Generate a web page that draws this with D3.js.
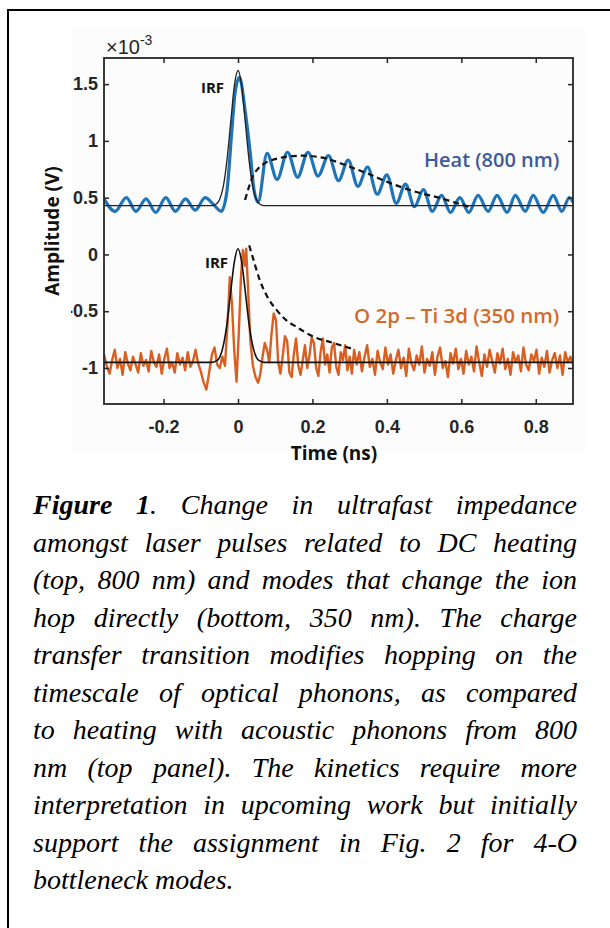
<!DOCTYPE html>
<html><head><meta charset="utf-8">
<script src="https://cdn.jsdelivr.net/npm/d3@7"></script>
<style>body{margin:0;background:#fff} svg{display:block}</style>
</head><body><svg id="c" width="610" height="928"></svg>
<script>
// ---------- data (amplitudes in units of 1e-3 V, time in ns) ----------
const xTicks = [-0.2, 0, 0.2, 0.4, 0.6, 0.8];
const xTickLabels = ["-0.2", "0", "0.2", "0.4", "0.6", "0.8"];
const yTicks = [1.5, 1, 0.5, 0, -0.5, -1];
const yTickLabels = ["1.5", "1", "0.5", "0", "-0.5", "-1"];

const heatTime = [-0.36,-0.33,-0.30,-0.274,-0.247,-0.221,-0.194,-0.168,-0.141,-0.115,-0.088,-0.066,-0.045,-0.030,-0.017,-0.008,0.004,0.019,0.032,0.043,0.054,
  0.078,0.105,0.133,0.160,0.188,0.215,0.243,0.270,0.296,0.322,0.348,0.374,0.400,0.425,0.450,0.474,0.498,0.522,0.547,0.571,0.596,0.620,0.645,0.672,0.696,0.723,0.745,0.772,0.793,0.820,0.847,0.870,0.890,0.900];
const heatValue = [0.49,0.38,0.50,0.38,0.49,0.37,0.50,0.38,0.49,0.39,0.50,0.44,0.38,0.55,1.07,1.42,1.56,1.27,0.92,0.57,0.46,
  0.89,0.66,0.90,0.68,0.90,0.69,0.87,0.65,0.83,0.60,0.77,0.53,0.70,0.45,0.62,0.42,0.57,0.38,0.52,0.37,0.50,0.37,0.52,0.38,0.52,0.37,0.52,0.38,0.52,0.37,0.52,0.38,0.50,0.46];

const irfTopTime = [-0.36,-0.07,-0.06,-0.05,-0.04,-0.03,-0.02,-0.01,0,0.01,0.02,0.03,0.04,0.05,0.06,0.07,0.9];
const irfTopValue = [0.43,0.43,0.44,0.48,0.59,0.82,1.15,1.48,1.62,1.48,1.15,0.82,0.59,0.48,0.44,0.43,0.43];

const heatFitTime = [0.019,0.030,0.040,0.055,0.070,0.090,0.113,0.140,0.175,0.200,0.230,0.270,0.310,0.350,0.400,0.450,0.490,0.540,0.580,0.620];
const heatFitValue = [0.48,0.60,0.69,0.76,0.80,0.83,0.85,0.865,0.87,0.865,0.85,0.81,0.76,0.71,0.64,0.58,0.54,0.50,0.46,0.42];

const ctTime = [-0.360,-0.352,-0.345,-0.338,-0.331,-0.324,-0.317,-0.310,-0.303,-0.296,-0.289,-0.282,-0.275,-0.268,-0.261,-0.254,-0.247,-0.240,-0.233,-0.226,-0.219,-0.212,-0.205,-0.198,-0.191,-0.184,-0.177,-0.170,-0.163,-0.156,-0.149,-0.142,-0.135,-0.128,-0.121,-0.114,-0.107,-0.100,-0.093,-0.085,-0.078,-0.070,-0.063,-0.056,-0.049,-0.042,-0.035,-0.028,-0.022,-0.016,-0.010,-0.004,0.002,0.008,0.013,0.018,0.022,0.027,0.033,0.040,0.047,0.054,0.060,0.066,0.072,0.078,0.084,0.090,0.096,0.102,0.108,0.114,0.120,0.126,0.132,0.138,0.144,0.150,0.156,0.162,0.168,0.174,0.180,0.186,0.192,0.198,0.204,0.210,0.216,0.222,0.228,0.234,0.240,0.246,0.252,0.258,0.264,0.270,0.276,0.282,0.288,0.294,0.300,0.306,0.312,0.319,0.326,0.333,0.340,0.347,0.354,0.361,0.368,0.375,0.382,0.389,0.396,0.403,0.410,0.417,0.424,0.431,0.438,0.445,0.452,0.459,0.466,0.473,0.480,0.487,0.494,0.501,0.508,0.515,0.522,0.529,0.536,0.543,0.550,0.557,0.564,0.571,0.578,0.585,0.592,0.599,0.606,0.613,0.620,0.627,0.634,0.641,0.648,0.655,0.662,0.669,0.676,0.683,0.690,0.697,0.704,0.711,0.718,0.725,0.732,0.739,0.746,0.753,0.760,0.767,0.774,0.781,0.788,0.795,0.802,0.809,0.816,0.823,0.830,0.837,0.844,0.851,0.858,0.865,0.872,0.879,0.886,0.893,0.900];
const ctValue = [-0.88,-0.99,-1.05,-0.93,-0.84,-1.00,-0.92,-1.06,-0.86,-0.96,-1.02,-0.90,-0.97,-1.04,-0.87,-0.98,-0.93,-1.03,-0.85,-0.95,-0.99,-0.88,-1.05,-0.92,-0.83,-1.00,-0.95,-1.04,-0.87,-0.97,-0.91,-1.02,-0.86,-0.99,-0.94,-0.84,-0.96,-1.03,-1.12,-1.19,-1.05,-0.88,-0.82,-0.97,-1.00,-0.90,-0.98,-0.60,-0.20,-0.45,-0.85,-1.12,-0.70,-0.20,0.04,-0.10,0.05,-0.30,-0.75,-0.98,-1.08,-1.13,-1.05,-0.90,-0.78,-0.84,-0.95,-0.70,-0.52,-0.58,-0.95,-1.05,-0.90,-0.72,-0.76,-1.04,-1.08,-0.88,-0.74,-0.98,-1.06,-0.93,-0.80,-1.00,-0.89,-0.73,-0.78,-1.00,-1.07,-0.86,-0.74,-0.97,-0.88,-1.04,-0.82,-0.78,-0.99,-1.06,-0.86,-0.93,-0.80,-1.02,-0.90,-1.05,-0.84,-0.97,-0.86,-1.03,-0.90,-0.80,-0.99,-0.92,-1.06,-0.85,-0.95,-1.01,-0.82,-0.97,-0.88,-1.05,-0.93,-0.84,-1.00,-0.91,-1.07,-0.83,-0.96,-1.02,-0.89,-0.97,-0.81,-1.04,-0.92,-0.98,-0.86,-1.06,-0.90,-0.82,-1.00,-0.94,-1.08,-0.87,-0.96,-0.83,-1.01,-0.92,-1.05,-0.85,-0.97,-0.90,-1.03,-0.81,-0.95,-1.07,-0.88,-0.99,-0.84,-0.94,-1.04,-0.87,-0.96,-0.83,-1.01,-0.92,-1.06,-0.86,-0.95,-0.89,-1.03,-0.82,-0.97,-1.02,-0.88,-0.94,-0.84,-1.05,-0.91,-0.99,-0.85,-1.04,-0.93,-0.87,-1.00,-0.89,-1.06,-0.86,-0.95,-0.90,-0.97];

const irfBotTime = [-0.36,-0.07,-0.06,-0.05,-0.04,-0.03,-0.02,-0.01,0,0.01,0.02,0.03,0.04,0.05,0.06,0.07,0.9];
const irfBotValue = [-0.95,-0.95,-0.94,-0.91,-0.81,-0.62,-0.34,-0.07,0.05,-0.07,-0.34,-0.62,-0.81,-0.91,-0.94,-0.95,-0.95];

const ctFitTime = [0.030,0.040,0.059,0.080,0.104,0.130,0.158,0.200,0.256,0.306];
const ctFitValue = [0.08,-0.03,-0.23,-0.38,-0.49,-0.58,-0.64,-0.72,-0.78,-0.83];

const captionLines = [
  "**Figure** **1**. Change in ultrafast impedance",
  "amongst laser pulses related to DC heating",
  "(top, 800 nm) and modes that change the ion",
  "hop directly (bottom, 350 nm). The charge",
  "transfer transition modifies hopping on the",
  "timescale of optical phonons, as compared",
  "to heating with acoustic phonons from 800",
  "nm (top panel). The kinetics require more",
  "interpretation in upcoming work but initially",
  "support the assignment in Fig. 2 for 4-O",
  "bottleneck modes."
];

// ---------- drawing ----------
const svg = d3.select("#c");
const X0 = 104, X1 = 573, Y0 = 58, Y1 = 404;
const x = d3.scaleLinear().domain([-0.36, 0.9]).range([X0, X1]);
const y = d3.scaleLinear().domain([-1.317, 1.73]).range([Y1, Y0]);
const axisCol = "#262626";
const tickFont = "'Liberation Sans', Arial, sans-serif";
const labFont = "'Open Sans', sans-serif";

// outer frame (left + top)
svg.append("path").attr("d", "M8,928 L8,10 L610,10").attr("fill", "none").attr("stroke", "#000").attr("stroke-width", 2);
// faint pasted image background
svg.append("rect").attr("x", 71).attr("y", 27).attr("width", 515).attr("height", 424).attr("fill", "#fcfcfc");

const defs = svg.append("defs");
defs.append("clipPath").attr("id", "plotclip").append("rect").attr("x", X0).attr("y", Y0).attr("width", X1 - X0).attr("height", Y1 - Y0);
defs.append("clipPath").attr("id", "ytclip").append("rect").attr("x", 71).attr("y", 0).attr("width", 600).attr("height", 928);

const zip = (t, v) => t.map((d, i) => [d, v[i]]);
const lineMono = d3.line().x(d => x(d[0])).y(d => y(d[1])).curve(d3.curveMonotoneX);
const lineLin = d3.line().x(d => x(d[0])).y(d => y(d[1]));

const plot = svg.append("g").attr("clip-path", "url(#plotclip)");
plot.append("path").datum(zip(heatTime, heatValue)).attr("d", lineMono)
  .attr("fill", "none").attr("stroke", "#1f74b8").attr("stroke-width", 3.2).attr("stroke-linejoin", "round");
plot.append("path").datum(zip(ctTime, ctValue)).attr("d", lineLin)
  .attr("fill", "none").attr("stroke", "#d95f20").attr("stroke-width", 2.4).attr("stroke-linejoin", "round");
plot.append("path").datum(zip(irfTopTime, irfTopValue)).attr("d", lineMono)
  .attr("fill", "none").attr("stroke", "#222").attr("stroke-width", 1.3);
plot.append("path").datum(zip(irfBotTime, irfBotValue)).attr("d", lineMono)
  .attr("fill", "none").attr("stroke", "#111").attr("stroke-width", 1.6);
plot.append("path").datum(zip(heatFitTime, heatFitValue)).attr("d", lineMono)
  .attr("fill", "none").attr("stroke", "#111").attr("stroke-width", 2.2).attr("stroke-dasharray", "6,4");
plot.append("path").datum(zip(ctFitTime, ctFitValue)).attr("d", lineMono)
  .attr("fill", "none").attr("stroke", "#111").attr("stroke-width", 2.2).attr("stroke-dasharray", "6,4");

// axes
function styleAxis(g) {
  g.select(".domain").remove();
  g.selectAll(".tick line").attr("stroke", axisCol).attr("stroke-width", 1.5);
  g.selectAll(".tick text").attr("fill", axisCol).attr("font-family", tickFont).attr("font-weight", "bold").attr("font-size", 18);
}
svg.append("g").attr("transform", `translate(0,${Y1})`)
  .call(d3.axisBottom(x).tickValues(xTicks).tickFormat((d, i) => xTickLabels[i]).tickSize(-5).tickPadding(16)).call(styleAxis);
svg.append("g").attr("transform", `translate(0,${Y0})`)
  .call(d3.axisTop(x).tickValues(xTicks).tickFormat("").tickSize(-5)).call(styleAxis);
svg.append("g").attr("clip-path", "url(#ytclip)")
  .append("g").attr("transform", `translate(${X0},0)`)
  .call(d3.axisLeft(y).tickValues(yTicks).tickFormat((d, i) => yTickLabels[i]).tickSize(-5).tickPadding(6)).call(styleAxis);
svg.append("g").attr("transform", `translate(${X1},0)`)
  .call(d3.axisRight(y).tickValues(yTicks).tickFormat("").tickSize(-5)).call(styleAxis);
svg.append("rect").attr("x", X0).attr("y", Y0).attr("width", X1 - X0).attr("height", Y1 - Y0)
  .attr("fill", "none").attr("stroke", axisCol).attr("stroke-width", 1.8);

// exponent
const ex = svg.append("text").attr("x", 106).attr("y", 54).attr("font-family", tickFont).attr("fill", axisCol).style("font-size", "20px");
ex.append("tspan").style("font-size", "20px").text("\u00d710");
ex.append("tspan").style("font-size", "14px").attr("dy", -9).text("-3");

// axis titles
svg.append("text").attr("x", 334).attr("y", 460).attr("text-anchor", "middle")
  .attr("font-family", labFont).attr("font-weight", 700).attr("font-size", 19).attr("fill", "#111").text("Time (ns)");
svg.append("text").attr("transform", "translate(59,231) rotate(-90)").attr("text-anchor", "middle")
  .attr("font-family", labFont).attr("font-weight", 700).attr("font-size", 19).attr("fill", "#111").text("Amplitude (V)");

// annotations
svg.append("text").attr("x", 201).attr("y", 93).attr("font-family", labFont).attr("font-weight", 700).attr("font-size", 15).attr("fill", "#111").text("IRF");
svg.append("text").attr("x", 205).attr("y", 268).attr("font-family", labFont).attr("font-weight", 700).attr("font-size", 15).attr("fill", "#111").text("IRF");
svg.append("text").attr("x", 424).attr("y", 167).attr("font-family", labFont).attr("font-weight", 600).attr("font-size", 20).attr("fill", "#3d5a9b").text("Heat (800 nm)");
svg.append("text").attr("x", 354).attr("y", 323).attr("font-family", labFont).attr("font-weight", 600).attr("font-size", 20.5).attr("fill", "#d4692b").text("O 2p \u2013 Ti 3d (350 nm)");

// caption (justified)
const CL = 33, CR = 577, CB = 514, CS = 37.5;
const capG = svg.append("g").attr("font-family", "'Liberation Serif', 'Times New Roman', serif")
  .attr("font-style", "italic").attr("font-size", 28).attr("fill", "#000");
captionLines.forEach((line, li) => {
  const words = line.split(" ");
  const els = words.map(w => {
    const t = capG.append("text").attr("y", CB + li * CS);
    w.split(/(\*\*[^*]+\*\*)/).filter(s => s.length).forEach(seg => {
      const b = seg.startsWith("**");
      t.append("tspan").attr("font-weight", b ? "bold" : "normal").text(b ? seg.slice(2, -2) : seg);
    });
    return t;
  });
  const widths = els.map(e => e.node().getComputedTextLength());
  const total = d3.sum(widths);
  const last = li === captionLines.length - 1;
  const gap = last ? 7 : (CR - CL - total) / (words.length - 1);
  let cx = CL;
  els.forEach((e, i) => { e.attr("x", cx); cx += widths[i] + gap; });
});
</script></body></html>
